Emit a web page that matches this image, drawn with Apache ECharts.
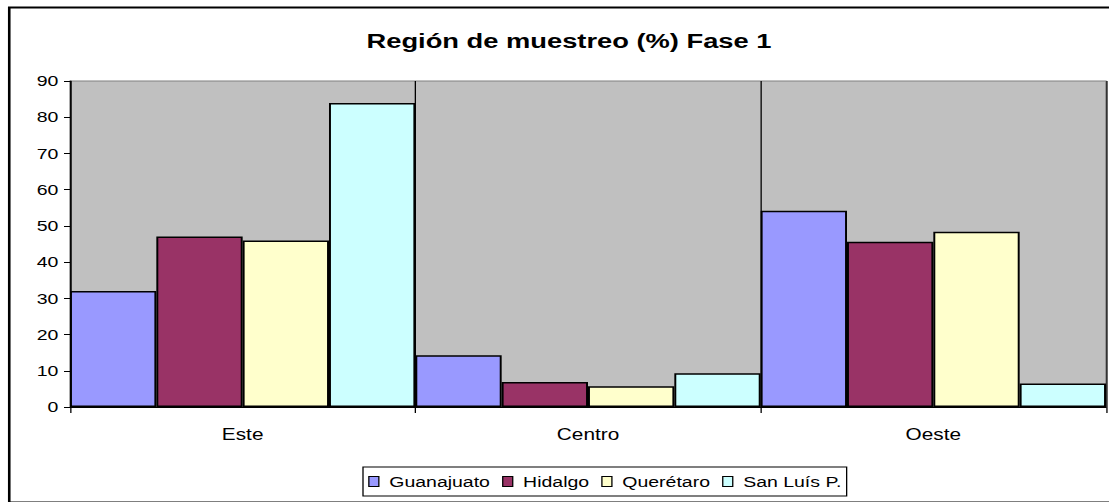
<!DOCTYPE html>
<html>
<head>
<meta charset="utf-8">
<script src="https://cdn.jsdelivr.net/npm/echarts@6/dist/echarts.min.js"></script>
<style>
html,body{margin:0;padding:0;background:#fff;overflow:hidden;}
#wrap{width:1109px;height:502px;overflow:hidden;position:relative;}
#chart{height:502px;transform-origin:0 0;position:absolute;left:0;top:0;}
</style>
</head>
<body>
<div id="wrap"><div id="chart"></div></div>
<script>
const categories = ['Este', 'Centro', 'Oeste'];
const seriesNames = ['Guanajuato', 'Hidalgo', 'Querétaro', 'San Luís P.'];
const guanajuato = [32, 14.3, 54.2];
const hidalgo = [47.1, 6.9, 45.6];
const queretaro = [46, 5.7, 48.4];
const sanLuis = [83.9, 9.3, 6.5];
const yTicks = [0, 10, 20, 30, 40, 50, 60, 70, 80, 90];
const colors = ['#9999FF', '#993366', '#FFFFCC', '#CCFFFF'];
const seriesData = [guanajuato, hidalgo, queretaro, sanLuis];

// The original picture is horizontally stretched; reproduce by drawing narrower and scaling in x.
const S = 1.3;
const W = 1109 / S;
const el = document.getElementById('chart');
el.style.width = W + 'px';
el.style.transform = 'scaleX(' + S + ')';

const FONT = '"Liberation Sans", Arial, sans-serif';
const chart = echarts.init(el, null, {renderer: 'svg', width: W, height: 502});
chart.setOption({
  animation: false,
  backgroundColor: '#ffffff',
  title: {
    text: 'Región de muestreo (%) Fase 1',
    left: 562.5 / S, top: 25, textAlign: 'center',
    textStyle: {fontFamily: FONT, fontSize: 21, fontWeight: 'bold', color: '#000'}
  },
  graphic: [{
    type: 'rect', left: 6 / S, top: 5, silent: true,
    shape: {width: 1200 / S, height: 495},
    style: {fill: 'none', stroke: '#000', lineWidth: 2}
  }],
  legend: {
    data: seriesNames,
    left: 363 / S, top: 467,
    orient: 'horizontal',
    icon: 'rect', itemWidth: 10 / S, itemHeight: 10, itemGap: 12 / S,
    padding: [7, 4, 7, 4],
    borderColor: '#000', borderWidth: 1,
    itemStyle: {borderColor: '#000', borderWidth: 1},
    textStyle: {fontFamily: FONT, fontSize: 15, color: '#000', padding: [0, 0, 0, 3]}
  },
  grid: {
    left: 70 / S, right: 3 / S, top: 81, bottom: 95,
    show: true, backgroundColor: '#C0C0C0', borderColor: '#808080', borderWidth: 1
  },
  xAxis: {
    type: 'category', data: categories,
    axisLine: {lineStyle: {color: '#000', width: 1}},
    axisTick: {show: true, length: 6, lineStyle: {color: '#000'}},
    splitLine: {show: true, lineStyle: {color: '#000', width: 1}},
    axisLabel: {fontFamily: FONT, fontSize: 16, color: '#000', margin: 19}
  },
  yAxis: {
    type: 'value', min: yTicks[0], max: yTicks[yTicks.length - 1], interval: 10,
    axisLine: {show: true, lineStyle: {color: '#000', width: 1}},
    axisTick: {show: true, length: 6 / S, lineStyle: {color: '#000'}},
    splitLine: {show: false},
    axisLabel: {fontFamily: FONT, fontSize: 15, color: '#000', margin: 9}
  },
  series: seriesNames.map((name, i) => ({
    name: name, type: 'bar', data: seriesData[i],
    barGap: '0%', barCategoryGap: '0%',
    itemStyle: {color: colors[i], borderColor: '#000', borderWidth: 1.5}
  }))
});
</script>
</body>
</html>
